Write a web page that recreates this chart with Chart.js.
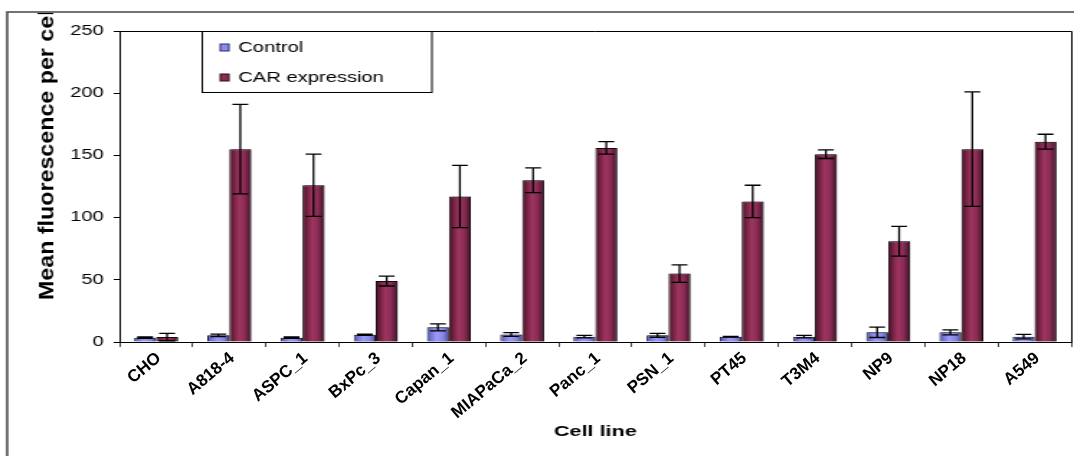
<!DOCTYPE html>
<html>
<head>
<meta charset="utf-8">
<script src="https://cdn.jsdelivr.net/npm/chart.js@4.4.1/dist/chart.umd.min.js"></script>
<style>
  html, body { margin: 0; padding: 0; background: #fff; }
  #wrap { position: relative; width: 1074px; height: 456px; }
  #labels { position: absolute; left: 0; top: 0; pointer-events: none; }
</style>
</head>
<body>
<div id="wrap">
  <!-- the original picture is stretched sideways, so the chart canvas is drawn narrow and widened by css -->
  <canvas id="chart" width="746" height="456" style="width:1074px;height:456px;display:block"></canvas>
  <!-- slanted category labels go on a second, unstretched canvas -->
  <canvas id="labels" width="1074" height="456"></canvas>
</div>
<script>
const cellLines = ['CHO', 'A818-4', 'ASPC_1', 'BxPc_3', 'Capan_1', 'MIAPaCa_2', 'Panc_1',
                   'PSN_1', 'PT45', 'T3M4', 'NP9', 'NP18', 'A549'];
const controlValues = [3.5, 5.4, 3.5, 5.9, 11.8, 6.1, 4.3, 5.4, 4.3, 4.3, 7.8, 7.8, 4.3];
const controlErrors = [0.5, 1, 0.5, 0.5, 2.8, 1.5, 1, 1.6, 0.3, 1, 4.2, 2, 1.8];
const carValues     = [4, 155, 126, 49, 117, 130, 156, 55, 113, 151, 81, 155, 161];
const carErrors     = [3, 36, 25, 4, 25, 10, 5, 7, 13, 3.5, 12, 46, 6];
const yTicks = [0, 50, 100, 150, 200, 250];
const yTitle = 'Mean fluorescence per cell';
const xTitle = 'Cell line';

const FONT = "'Liberation Sans', Arial, sans-serif";
const CAT_PCT = 0.6;
const STRETCH = 1074 / 746;
const LABEL_ANGLE = 40;

const controlStops = [[0, '#3f3f8c'], [0.15, '#6f6fd0'], [0.45, '#9c9cff'], [0.75, '#8484e6'], [1, '#45459a']];
const carStops     = [[0, '#3b0d24'], [0.2, '#72213f'], [0.45, '#9e3561'], [0.7, '#8a2c55'], [1, '#3e1027']];

function barFill(stops, side, flat) {
  return ctx => {
    const chart = ctx.chart, x = chart.scales.x;
    if (ctx.type !== 'data' || !x || !chart.chartArea) return flat;
    const w = (x.width / cellLines.length) * CAT_PCT / 2;
    const c = x.getPixelForValue(ctx.dataIndex) + side * w / 2;
    const g = chart.ctx.createLinearGradient(c - w / 2, 0, c + w / 2, 0);
    stops.forEach(([p, col]) => g.addColorStop(p, col));
    return g;
  };
}

const barShadow = {
  id: 'barShadow',
  beforeDatasetsDraw(chart) {
    const ctx = chart.ctx;
    ctx.save();
    ctx.shadowColor = 'rgba(0,0,0,0.35)';
    ctx.shadowOffsetX = 1.6;
    ctx.shadowOffsetY = 0;
    ctx.shadowBlur = 0.5;
  },
  afterDatasetsDraw(chart) { chart.ctx.restore(); }
};

const errorBars = {
  id: 'errorBars',
  afterDatasetsDraw(chart) {
    const { ctx, scales: { y } } = chart;
    ctx.save();
    ctx.strokeStyle = '#000';
    ctx.lineWidth = 1.3;
    chart.data.datasets.forEach((ds, di) => {
      chart.getDatasetMeta(di).data.forEach((bar, i) => {
        const v = ds.data[i], e = ds.errors[i];
        const top = y.getPixelForValue(v + e);
        const bot = y.getPixelForValue(Math.max(v - e, 0));
        const cap = 5.5;
        ctx.beginPath();
        ctx.moveTo(bar.x, top); ctx.lineTo(bar.x, bot);
        ctx.moveTo(bar.x - cap, top); ctx.lineTo(bar.x + cap, top);
        ctx.moveTo(bar.x - cap, bot); ctx.lineTo(bar.x + cap, bot);
        ctx.stroke();
      });
    });
    ctx.restore();
  }
};

const decorations = {
  id: 'decorations',
  afterDraw(chart) {
    const { ctx, chartArea: a } = chart;

    // plot area border, top and right
    ctx.save();
    ctx.strokeStyle = '#000';
    ctx.lineWidth = 1;
    ctx.beginPath();
    ctx.moveTo(a.left, a.top + 0.5); ctx.lineTo(a.right + 0.5, a.top + 0.5); ctx.lineTo(a.right + 0.5, a.bottom);
    ctx.stroke();

    // legend box
    const lx = 140.5, ly = a.top + 0.5, lw = 159.5, lh = 61;
    ctx.fillStyle = '#fff';
    ctx.fillRect(lx, ly, lw, lh);
    ctx.strokeRect(lx, ly, lw, lh);
    ctx.font = `14px ${FONT}`;
    ctx.textBaseline = 'middle';
    ctx.textAlign = 'left';
    const swatch = [['#8c8cf0', '#2a2a6a'], ['#8c2a55', '#2a0a1a']];
    [47.5, 77.5].forEach((cy, i) => {
      ctx.fillStyle = swatch[i][0];
      ctx.fillRect(153, cy - 3.5, 6, 7);
      ctx.strokeStyle = swatch[i][1];
      ctx.strokeRect(153, cy - 3.5, 6, 7);
      ctx.fillStyle = '#000';
      ctx.fillText(chart.data.datasets[i].label, 165.5, cy + 0.5);
    });

    // y title, cut off by the outer frame like the original
    ctx.save();
    ctx.beginPath();
    ctx.rect(0, 13, chart.width, chart.height);
    ctx.clip();
    ctx.translate(33.5, 300);
    ctx.rotate(-Math.PI / 2);
    ctx.scale(1.66, 1);
    ctx.font = `bold 14px ${FONT}`;
    ctx.fillStyle = '#000';
    ctx.fillText(yTitle, 0, 0);
    ctx.restore();

    // outer frame
    ctx.strokeStyle = '#444';
    ctx.lineWidth = 1.5;
    ctx.beginPath();
    ctx.moveTo(5, chart.height); ctx.lineTo(5, 12); ctx.lineTo(chart.width, 12);
    ctx.stroke();
    ctx.restore();
  }
};

const chart = new Chart(document.getElementById('chart'), {
  type: 'bar',
  data: {
    labels: cellLines,
    datasets: [
      { label: 'Control', data: controlValues, errors: controlErrors,
        backgroundColor: barFill(controlStops, -1, '#8c8cf0'), borderColor: '#1a1a3a', borderWidth: 1 },
      { label: 'CAR expression', data: carValues, errors: carErrors,
        backgroundColor: barFill(carStops, 1, '#8c2a55'), borderColor: '#1a0610', borderWidth: 1 }
    ]
  },
  options: {
    responsive: false,
    animation: false,
    devicePixelRatio: 1,
    categoryPercentage: CAT_PCT,
    barPercentage: 1,
    layout: { padding: { left: 0, top: 31, right: 2, bottom: 0 } },
    plugins: { legend: { display: false }, tooltip: { enabled: false } },
    scales: {
      x: {
        afterFit: s => { s.height = 114; },
        border: { color: '#000', width: 1 },
        grid: { drawOnChartArea: false, tickLength: 5, color: '#444' },
        ticks: { display: false },
        title: { display: true, text: xTitle, color: '#000', padding: { top: 0, bottom: 15 },
                 font: { family: FONT, size: 15, weight: 'bold' } }
      },
      y: {
        min: 0, max: 250,
        afterFit: s => { s.width = 83; },
        afterBuildTicks: s => { s.ticks = yTicks.map(v => ({ value: v })); },
        border: { color: '#000', width: 1 },
        grid: { drawOnChartArea: false, tickLength: 4, color: '#000' },
        ticks: { padding: 7, color: '#000', font: { family: FONT, size: 14 } }
      }
    }
  },
  plugins: [barShadow, errorBars, decorations]
});

// category labels: each starts at its left end so its right end lands by the category
const xScale = chart.scales.x;
const lctx = document.getElementById('labels').getContext('2d');
const rad = LABEL_ANGLE * Math.PI / 180;
lctx.font = `bold 17px ${FONT}`;
lctx.fillStyle = '#000';
lctx.textAlign = 'left';
lctx.textBaseline = 'middle';
chart.data.labels.forEach((lab, i) => {
  const w = lctx.measureText(lab).width;
  const ax = (xScale.getPixelForValue(i) + 2) * STRETCH;
  const ay = chart.chartArea.bottom + 14;
  lctx.save();
  lctx.translate(ax - w * Math.cos(rad), ay + w * Math.sin(rad));
  lctx.rotate(-rad);
  lctx.fillText(lab, 0, 0);
  lctx.restore();
});
</script>
</body>
</html>
